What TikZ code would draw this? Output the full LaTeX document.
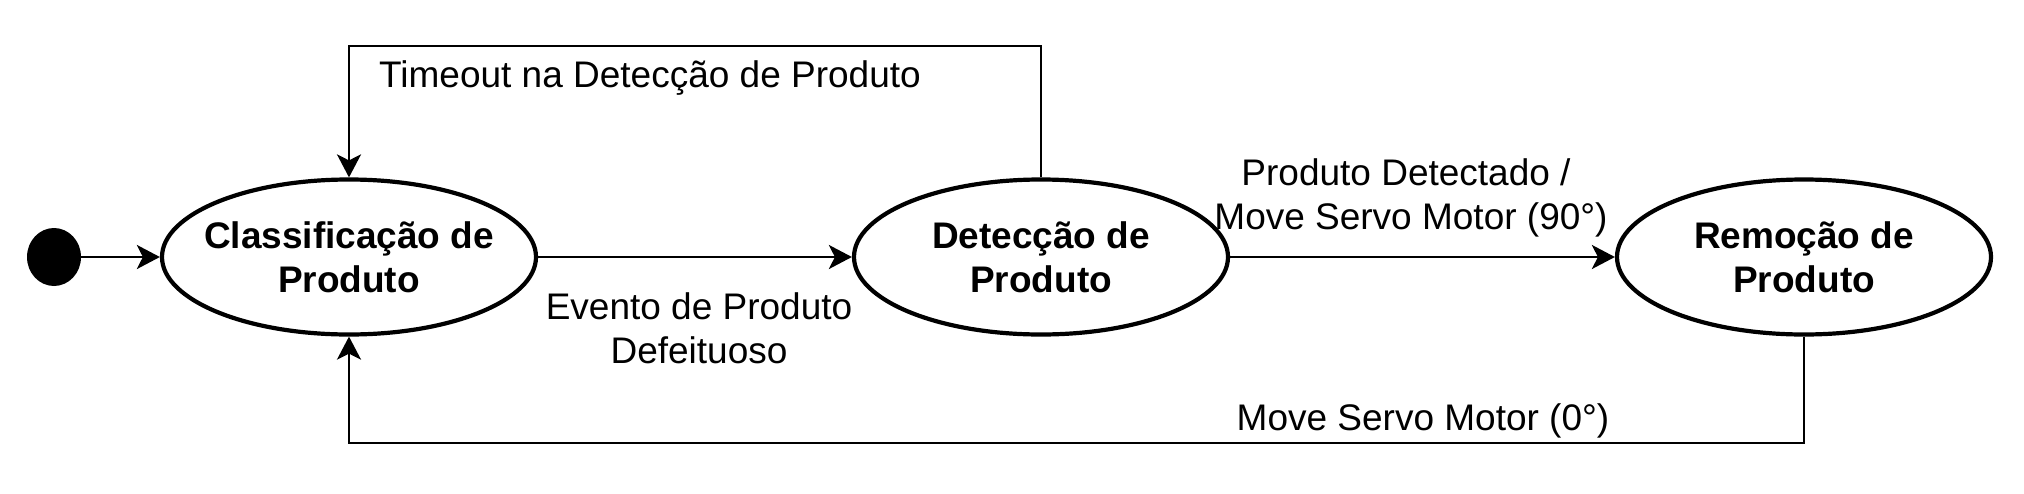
\documentclass[tikz,border=0pt]{standalone}
\usepackage{fontspec}
\setmainfont{Liberation Sans}
\usetikzlibrary{arrows.meta,shapes.geometric}
\begin{document}
\begin{tikzpicture}[x=1pt,y=-1pt,
  stbox/.style={ellipse,draw,line width=4.2pt,minimum width=374pt,minimum height=155pt,inner sep=0pt},
  sttext/.style={font=\fontsize{37}{44}\selectfont\bfseries,align=center,inner sep=0pt},
  lbl/.style={font=\fontsize{37}{44}\selectfont,align=center,inner sep=0pt},
  conn/.style={line width=2.6pt,-{Stealth[length=23pt,width=24pt,inset=6pt]}},
  initdot/.style={ellipse,fill=black,minimum width=54pt,minimum height=58pt,inner sep=0pt}]
\useasboundingbox (0,0) rectangle (2024,493);
\node[initdot] (init) at (54,257) {};
\node[stbox,label={[sttext]center:{Classificação de\\Produto}}] (c1) at (349,257) {};
\node[stbox,label={[sttext]center:{Detecção de\\Produto}}] (d2) at (1041,257) {};
\node[stbox,label={[sttext]center:{Remoção de\\Produto}}] (r3) at (1804,257) {};
\coordinate (topY) at (0,46);
\coordinate (botY) at (0,443);
\draw[conn] (init) -- (c1);
\draw[conn] (c1) -- (d2);
\draw[conn] (d2) -- (r3);
\draw[conn] (d2.north) |- (topY -| c1.north) -- (c1.north);
\draw[conn] (r3.south) |- (botY -| c1.south) -- (c1.south);
\node[lbl,anchor=base] (l1) at (650,87) {Timeout na Detecção de Produto};
\node[lbl] (l2) at (699,328) {Evento de Produto\\Defeituoso};
\node[lbl] (l3) at (1411,197.5) {Produto Detectado /\hspace*{10pt}\\Move Servo Motor (90°)};
\node[lbl,anchor=base] (l4) at (1423,430) {Move Servo Motor (0°)};
\end{tikzpicture}
\end{document}
